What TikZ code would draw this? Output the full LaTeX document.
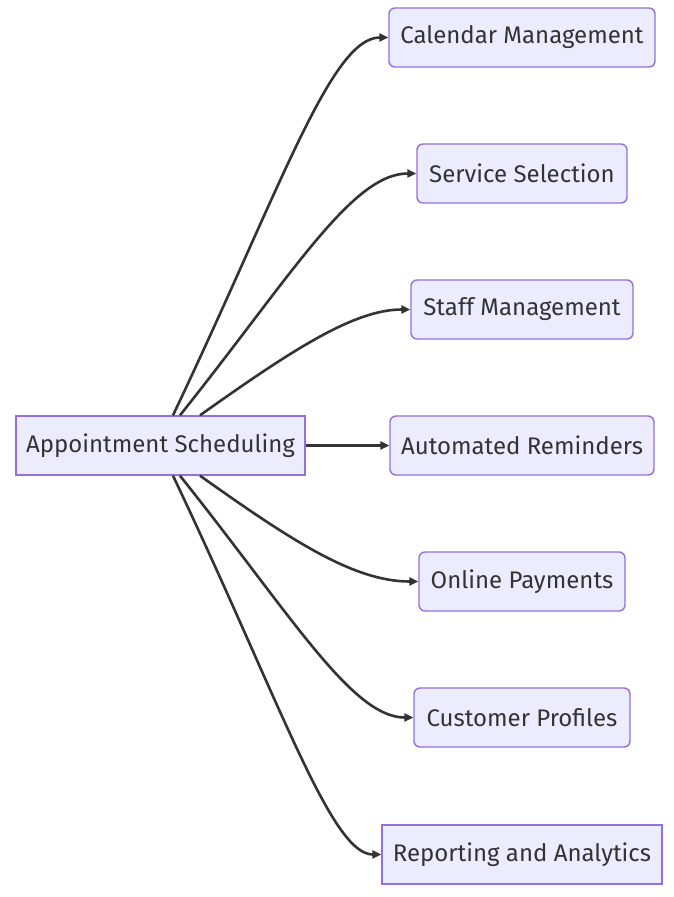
\documentclass[tikz,border=0pt]{standalone}
\usepackage{fontspec}
\setmainfont{Fira Sans}
\usetikzlibrary{arrows.meta}
\definecolor{boxfill}{HTML}{ECECFF}
\definecolor{boxline}{HTML}{9370DB}
\definecolor{edgeline}{HTML}{333333}

\begin{document}
\begin{tikzpicture}[x=1pt,y=-1pt,-{Triangle[length=9pt,width=8pt]}]
    \tikzstyle{box}=[draw=boxline,fill=boxfill,line width=1.4pt,minimum height=59pt,inner sep=0pt,text=edgeline,font=\fontsize{24}{28}\selectfont]
    \tikzstyle{feature}=[box,rounded corners=6pt]
    \tikzstyle{link}=[draw=edgeline,line width=2.6pt]
    \useasboundingbox (0,0) rectangle (673,897);

    \node[box,minimum width=289pt] (App) at (160.5,445.5) {Appointment Scheduling};

    \foreach \name/\y/\w/\txt in {Cal/37.5/266/Calendar Management, Srv/173.5/210/Service Selection,
            Stf/309.5/222/Staff Management, Aut/445.5/264/Automated Reminders,
            Pay/581.5/206/Online Payments, Cus/717.5/216/Customer Profiles}
        \node[feature,minimum width=\w pt] (F-\name) at (522,\y) {\txt};
    \node[box,minimum width=280pt] (F-Rep) at (522,854.5) {Reporting and Analytics};

    \draw[link] (App) -- (F-Aut);
    \foreach \to/\dx/\side/\ca/\cb in {Cal/12.5/north/{281,188}/{331,37.5}, Srv/19.5/north/{292,275}/{352,173.5},
            Stf/39.5/north/{292,350}/{354,309.5}, Pay/39.5/south/{292,541}/{354,581.5},
            Cus/19.5/south/{292,616}/{352,717.5}, Rep/12.5/south/{281,703}/{331,854.5}}
        \draw[link] ([xshift=\dx pt]App.\side) .. controls (\ca) and (\cb) .. (F-\to.west);
\end{tikzpicture}
\end{document}
